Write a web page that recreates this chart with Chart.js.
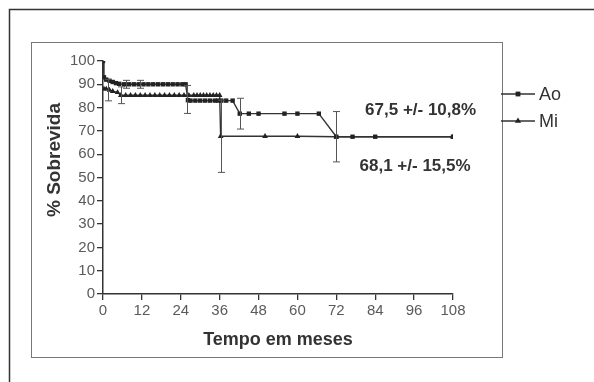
<!DOCTYPE html>
<html>
<head>
<meta charset="utf-8">
<script src="https://cdn.jsdelivr.net/npm/chart.js@4.4.1/dist/chart.umd.min.js"></script>
<style>
  html, body { margin: 0; padding: 0; background: #fff; }
  #wrap { position: relative; width: 594px; height: 382px; }
</style>
</head>
<body>
<div id="wrap"><canvas id="chart" width="594" height="382"></canvas></div>
<script>
// survival curves (months, % survival)
const aoMonths = [0, 0.3, 1, 2, 3, 4, 5, 6.5, 8, 9.5, 11, 12.5, 14, 15.5, 17, 18.5, 20, 21.5, 23, 24.5, 25.5,
  26.2, 27, 28.5, 30, 31.5, 33, 34.5, 35.5, 36.5, 38, 40, 42.2, 45, 48, 56, 60, 66.6, 72, 77, 84, 108];
const aoSurvival = [100, 93, 92, 91.5, 91, 90.5, 90.2, 90, 90, 90, 90, 90, 90, 90, 90, 90, 90, 90, 90, 90, 90,
  83.2, 83, 83, 83, 83, 83, 83, 83, 83, 83, 83, 77.4, 77.4, 77.4, 77.4, 77.4, 77.4, 67.5, 67.5, 67.5, 67.5];
const miMonths = [0.3, 1, 2, 3, 4.5, 5.5, 7, 8.5, 10, 11.5, 13, 14.5, 16, 17.5, 19, 20.5, 22, 23.5, 25, 26.5,
  28, 29, 30, 31, 32, 33, 34, 35, 36, 36.3, 50, 60, 72, 108];
const miSurvival = [88, 88, 87.5, 87, 86.5, 85.3, 85.3, 85.3, 85.3, 85.3, 85.3, 85.3, 85.3, 85.3, 85.3, 85.3,
  85.3, 85.3, 85.3, 85.3, 85.3, 85.3, 85.3, 85.3, 85.3, 85.3, 85.3, 85.3, 85.3, 67.7, 67.7, 67.7, 67.5, 67.5];

// error bars (month, centre, half width)
const aoErrMonths = [7, 11.3, 26, 42.2, 72];
const aoErrCenter = [90, 90, 83.5, 77.4, 67.5];
const aoErrSize = [1.7, 1.7, 6, 6.6, 10.8];
const miErrMonths = [1.5, 5.4, 36.3];
const miErrCenter = [87.5, 85.3, 67.7];
const miErrSize = [4.6, 3.6, 15.5];

const xTicks = [0, 12, 24, 36, 48, 60, 72, 84, 96, 108];
const seriesLabels = ['Ao', 'Mi'];
const finalLabels = ['67,5 +/- 10,8%', '68,1 +/- 15,5%'];
const finalLabelAt = [[98, 79], [96.3, 55]];

const FONT = '"Liberation Sans", Arial, sans-serif';

const toPoints = (xs, ys) => xs.map((x, i) => ({ x: x, y: ys[i] }));

const frames = {
  id: 'frames',
  beforeDraw(chart) {
    const ctx = chart.ctx;
    ctx.save();
    ctx.strokeStyle = '#333';
    ctx.lineWidth = 1.5;
    ctx.strokeRect(9.5, 9.5, 700, 700);
    ctx.strokeStyle = '#777';
    ctx.lineWidth = 1;
    ctx.strokeRect(31.5, 42.5, 471, 315);
    ctx.restore();
  }
};

const errorBars = {
  id: 'errorBars',
  afterDatasetsDraw(chart) {
    const { ctx, scales: { x, y } } = chart;
    ctx.save();
    ctx.strokeStyle = '#555';
    ctx.lineWidth = 1;
    const draw = (ms, cs, ss) => {
      ms.forEach((m, i) => {
        const px = Math.round(x.getPixelForValue(m)) + 0.5;
        const top = y.getPixelForValue(cs[i] + ss[i]);
        const bot = y.getPixelForValue(cs[i] - ss[i]);
        ctx.beginPath();
        ctx.moveTo(px, top); ctx.lineTo(px, bot);
        ctx.moveTo(px - 3.5, top); ctx.lineTo(px + 3.5, top);
        ctx.moveTo(px - 3.5, bot); ctx.lineTo(px + 3.5, bot);
        ctx.stroke();
      });
    };
    draw(aoErrMonths, aoErrCenter, aoErrSize);
    draw(miErrMonths, miErrCenter, miErrSize);

    // final survival labels
    ctx.fillStyle = '#333';
    ctx.font = 'bold 17px ' + FONT;
    ctx.textAlign = 'center';
    ctx.textBaseline = 'middle';
    finalLabels.forEach((t, i) => {
      ctx.fillText(t, x.getPixelForValue(finalLabelAt[i][0]), y.getPixelForValue(finalLabelAt[i][1]));
    });

    // y axis title
    ctx.save();
    ctx.translate(55, 160);
    ctx.rotate(-Math.PI / 2);
    ctx.font = 'bold 19px ' + FONT;
    ctx.fillText('% Sobrevida', 0, 0);
    ctx.restore();
    ctx.restore();
  }
};

const sideLegend = {
  id: 'sideLegend',
  afterDraw(chart) {
    const ctx = chart.ctx;
    ctx.save();
    chart.data.datasets.forEach((ds, i) => {
      const yy = 94 + i * 27;
      ctx.strokeStyle = ds.borderColor;
      ctx.lineWidth = ds.borderWidth;
      ctx.beginPath();
      ctx.moveTo(501, yy); ctx.lineTo(535, yy);
      ctx.stroke();
      ctx.fillStyle = ds.pointBackgroundColor;
      Chart.helpers.drawPoint(ctx, { pointStyle: ds.pointStyle, radius: ds.pointRadius + 0.3, borderWidth: 0 }, 518, yy);
      ctx.fillStyle = '#333';
      ctx.font = '18px ' + FONT;
      ctx.textAlign = 'left';
      ctx.textBaseline = 'middle';
      ctx.fillText(ds.label, 539, yy + 1);
    });
    ctx.restore();
  }
};

new Chart(document.getElementById('chart'), {
  type: 'line',
  data: {
    datasets: [{
      label: seriesLabels[0],
      data: toPoints(aoMonths, aoSurvival),
      borderColor: '#333',
      borderWidth: 1.4,
      pointStyle: 'rect',
      pointRadius: 3.1,
      pointBackgroundColor: '#222',
      pointBorderWidth: 0,
      tension: 0
    }, {
      label: seriesLabels[1],
      data: toPoints(miMonths, miSurvival),
      borderColor: '#333',
      borderWidth: 1.4,
      pointStyle: 'triangle',
      pointRadius: 3.3,
      pointBackgroundColor: '#222',
      pointBorderWidth: 0,
      tension: 0
    }]
  },
  options: {
    responsive: false,
    animation: false,
    layout: { padding: { left: 31, right: 141, top: 61, bottom: 0 } },
    plugins: { legend: { display: false }, tooltip: { enabled: false } },
    scales: {
      x: {
        type: 'linear',
        min: 0,
        max: 108,
        afterBuildTicks: s => { s.ticks = xTicks.map(v => ({ value: v })); },
        afterFit: s => { s.height = 88; },
        grid: { drawOnChartArea: false, drawTicks: true, tickLength: 6, color: '#333', lineWidth: 1.3 },
        border: { display: true, color: '#333', width: 1.5 },
        ticks: { color: '#5a5a5a', font: { family: FONT, size: 15 }, padding: 2, maxRotation: 0, autoSkip: false },
        title: {
          display: true, text: 'Tempo em meses', color: '#333',
          font: { family: FONT, size: 18, weight: 'bold' },
          padding: { top: 0, bottom: 31 }
        }
      },
      y: {
        min: 0,
        max: 100,
        afterFit: s => { s.width = 72; },
        grid: { drawOnChartArea: false, drawTicks: true, tickLength: 6, color: '#333', lineWidth: 1.3 },
        border: { display: true, color: '#333', width: 1.5 },
        ticks: { stepSize: 10, color: '#5a5a5a', font: { family: FONT, size: 15 }, padding: 2 }
      }
    }
  },
  plugins: [frames, errorBars, sideLegend]
});
</script>
</body>
</html>
